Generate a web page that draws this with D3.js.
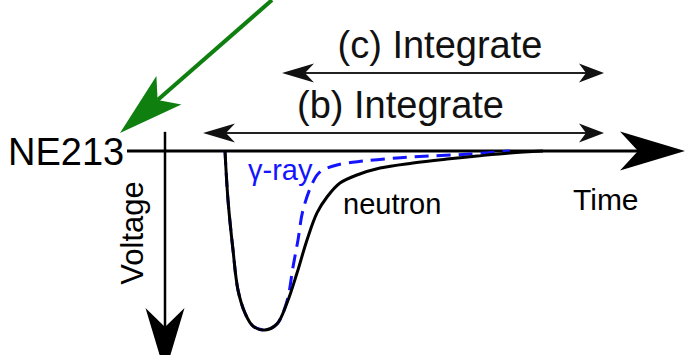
<!DOCTYPE html>
<html>
<head>
<meta charset="utf-8">
<script src="https://cdnjs.cloudflare.com/ajax/libs/d3/7.8.5/d3.min.js"></script>
<style>
  html, body { margin: 0; padding: 0; background: #fff; }
  svg { display: block; font-family: "Liberation Sans", Arial, Helvetica, sans-serif; }
</style>
</head>
<body>
<div id="chart"></div>
<script>
// pulse shapes, time in ns, voltage as fraction of the peak (drawn downwards)
var neutronTime = [12, 12.6, 13.6, 14.6, 16, 17.6, 20, 22.4, 24.4, 26.4, 28.4, 30.4, 32.4, 35, 38.4, 43, 49.6, 56.4, 62.4, 69, 75.6];
var neutronVolt = [0, 0.274, 0.553, 0.777, 0.905, 0.978, 1.0, 0.966, 0.849, 0.682, 0.497, 0.346, 0.257, 0.179, 0.134, 0.095, 0.067, 0.045, 0.028, 0.011, 0];

var gammaTime = [12, 12.6, 13.6, 14.6, 16, 17.6, 20, 22.4, 24.4, 25.6, 26.6, 27.6, 29.6, 31, 34.4, 39.6, 46.4, 53, 61, 69];
var gammaVolt = [0, 0.274, 0.553, 0.777, 0.905, 0.978, 1.0, 0.966, 0.838, 0.648, 0.497, 0.33, 0.173, 0.117, 0.078, 0.056, 0.039, 0.028, 0.017, 0];

// integration windows
var windowLabels = ["(b) Integrate", "(c) Integrate"];
var windowStart = [7.6, 23.4];
var windowEnd = [87.8, 87.8];

var axisTimeExtent = [-7.6, 104];
var axisVoltExtent = [-0.107, 1.24];

var width = 686, height = 355;

var x = d3.scaleLinear([0, 104], [165, 685]),
    y = d3.scaleLinear([0, 1], [151, 330]);

var svg = d3.select("#chart").append("svg")
    .attr("width", width)
    .attr("height", height);

// stealth style arrow head, tip at (tx,ty) pointing along angle a
function arrowHead(tx, ty, a, len, half, notch) {
  var ux = -Math.cos(a), uy = -Math.sin(a),
      px = -uy, py = ux;
  var pts = [
    [tx, ty],
    [tx + ux * len + px * half, ty + uy * len + py * half],
    [tx + ux * notch, ty + uy * notch],
    [tx + ux * len - px * half, ty + uy * len - py * half]
  ];
  return "M" + pts.map(function(p) { return p[0].toFixed(1) + "," + p[1].toFixed(1); }).join("L") + "Z";
}

function arrow(g, x1, y1, x2, y2, color, lw, len, half, notch) {
  var a = Math.atan2(y2 - y1, x2 - x1);
  g.append("line")
    .attr("x1", x1).attr("y1", y1)
    .attr("x2", x2 - Math.cos(a) * notch).attr("y2", y2 - Math.sin(a) * notch)
    .attr("stroke", color)
    .attr("stroke-width", lw);
  g.append("path")
    .attr("d", arrowHead(x2, y2, a, len, half, notch))
    .attr("fill", color);
}

var axes = svg.append("g").classed("axes", true);

// time axis
arrow(axes, x(axisTimeExtent[0]), y(0), x(axisTimeExtent[1]), y(0), "#000", 3, 65, 19.5, 47);
// voltage axis
arrow(axes, x(0), y(axisVoltExtent[0]), x(0), y(axisVoltExtent[1]), "#000", 2.5, 65, 19.5, 46);

// integration windows (double headed)
var winY = [133, 73];
windowLabels.forEach(function(label, i) {
  var g = svg.append("g").classed("window", true),
      x1 = x(windowStart[i]), x2 = x(windowEnd[i]), yy = winY[i];
  g.append("line")
    .attr("x1", x1 + 20).attr("y1", yy)
    .attr("x2", x2 - 16).attr("y2", yy)
    .attr("stroke", "#222")
    .attr("stroke-width", 2);
  g.append("path").attr("d", arrowHead(x1, yy, Math.PI, 32, 9.5, 23)).attr("fill", "#111");
  g.append("path").attr("d", arrowHead(x2, yy, 0, 25, 9.5, 18)).attr("fill", "#111");
  g.append("text")
    .attr("x", (x1 + x2) / 2 - 3)
    .attr("y", yy - 15)
    .attr("text-anchor", "middle")
    .attr("font-size", 38)
    .attr("fill", "#111")
    .text(label);
});

// pulses
var line = d3.line()
    .x(function(d) { return x(d[0]); })
    .y(function(d) { return y(d[1]); })
    .curve(d3.curveCatmullRom.alpha(0.5));

svg.append("path")
    .attr("d", line(d3.zip(gammaTime, gammaVolt)))
    .attr("fill", "none")
    .attr("stroke", "#1414ff")
    .attr("stroke-width", 3)
    .attr("stroke-dasharray", "14,8");

svg.append("path")
    .attr("d", line(d3.zip(neutronTime, neutronVolt)))
    .attr("fill", "none")
    .attr("stroke", "#000")
    .attr("stroke-width", 3);

// labels
svg.append("text")
    .attr("x", 8).attr("y", 165)
    .attr("font-size", 38)
    .text("NE213");

svg.append("text")
    .attr("transform", "translate(143,233) rotate(-90)")
    .attr("text-anchor", "middle")
    .attr("font-size", 31)
    .text("Voltage");

svg.append("text")
    .attr("x", 573).attr("y", 210)
    .attr("font-size", 30)
    .text("Time");

svg.append("text")
    .attr("x", 343).attr("y", 214)
    .attr("font-size", 29)
    .text("neutron");

svg.append("text")
    .attr("x", 248).attr("y", 180)
    .attr("font-size", 29)
    .attr("fill", "#1414ff")
    .text("γ-ray");

// green pointer to the detector
arrow(svg.append("g"), 272, 0, 120, 133, "#0f7f0f", 4, 65, 19, 50);
</script>
</body>
</html>
